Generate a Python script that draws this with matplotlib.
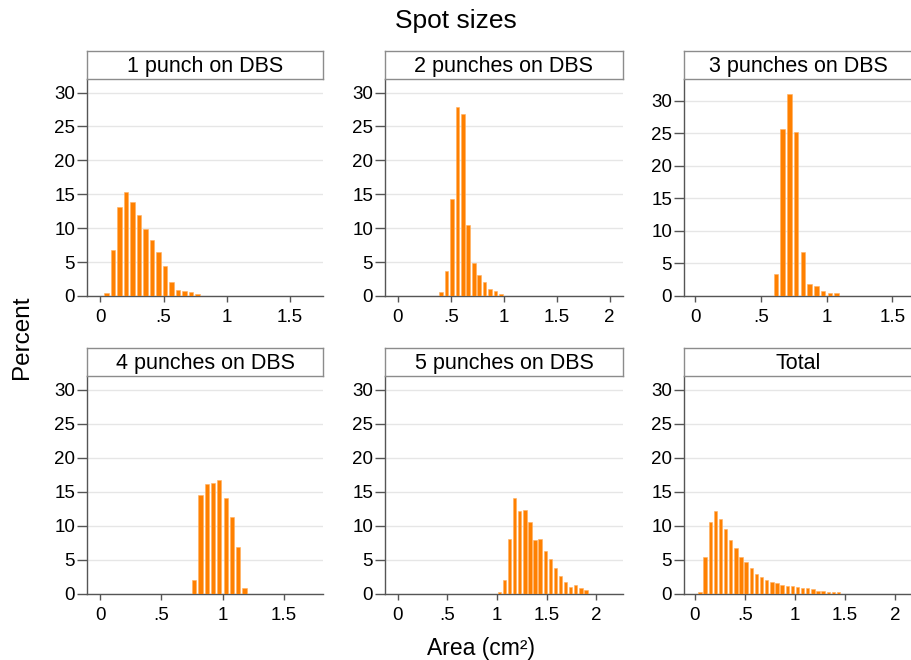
import numpy as np
import matplotlib
matplotlib.use('Agg')
import matplotlib.pyplot as plt

plt.rcParams['font.family'] = ['Liberation Sans', 'DejaVu Sans']

# histogram values (percent)
titles = ['1 punch on DBS', '2 punches on DBS', '3 punches on DBS',
          '4 punches on DBS', '5 punches on DBS', 'Total']
pct_1 = [0.4, 6.8, 13.1, 15.3, 13.8, 11.9, 9.85, 8.3, 6.5, 4.4, 2.1, 0.9, 0.7, 0.6, 0.35]
pct_2 = [0.6, 3.7, 14.3, 27.9, 26.9, 10.5, 4.9, 3.1, 2.1, 1.1, 0.7, 0.35]
pct_3 = [3.4, 25.7, 31.0, 25.2, 6.75, 1.85, 1.55, 0.75, 0.4, 0.4]
pct_4 = [2.05, 14.6, 16.1, 16.3, 16.7, 14.1, 11.3, 6.9, 0.9]
pct_5 = [0.35, 2.05, 8.1, 14.1, 12.2, 12.4, 10.5, 8.0, 8.05, 6.3, 5.1, 3.8, 2.6,
         1.7, 1.0, 1.3, 0.9, 0.55]
pct_t = [0.35, 5.4, 10.5, 12.2, 10.95, 9.5, 8.0, 6.75, 5.4, 4.7, 3.75, 2.9, 2.45,
         2.05, 1.7, 1.55, 1.3, 1.2, 1.2, 1.0, 0.9, 0.9, 0.7, 0.5, 0.5, 0.35, 0.35, 0.35]
series = [pct_1, pct_2, pct_3, pct_4, pct_5, pct_t]

# common bins: first bin centre, bin width, index of first non-empty bin per panel
bin_c0 = 0.05
bin_w = 0.0513
first_bin = [0, 7, 11, 14, 19, 0]

xticks = [[0, 0.5, 1, 1.5], [0, 0.5, 1, 1.5, 2], [0, 0.5, 1, 1.5],
          [0, 0.5, 1, 1.5], [0, 0.5, 1, 1.5, 2], [0, 0.5, 1, 1.5, 2]]
xlabels = {0: '0', 0.5: '.5', 1: '1', 1.5: '1.5', 2: '2'}
xlims = [(-0.105, 1.76), (-0.12, 2.125), (-0.084, 1.65),
         (-0.108, 1.82), (-0.128, 2.27), (-0.11, 2.17)]
ytop = [32.0, 32.0, 33.3, 32.0, 32.0, 32.0]
yticks = [0, 5, 10, 15, 20, 25, 30]

W, H = 912, 660
fig = plt.figure(figsize=(W / 100, H / 100), dpi=100)

cols = [(87, 323), (385, 623), (684, 912)]
rows = [(79, 296), (376, 594)]
box_h = 28

orange = '#ff8000'
spine_c = '#555555'

for i in range(6):
    r, c = divmod(i, 3)
    x0, x1 = cols[c]
    y0, y1 = rows[r]
    ax = fig.add_axes([x0 / W, 1 - y1 / H, (x1 - x0) / W, (y1 - y0) / H])
    vals = series[i]
    xs = bin_c0 + bin_w * (first_bin[i] + np.arange(len(vals)))
    ax.bar(xs, vals, width=bin_w * 0.66, color=orange, edgecolor='#ffb060',
           linewidth=0.4, zorder=3)
    ax.set_xlim(*xlims[i])
    ax.set_ylim(0, ytop[i])
    ax.set_yticks(yticks)
    ax.set_xticks(xticks[i])
    ax.set_xticklabels([xlabels[t] for t in xticks[i]])
    ax.grid(axis='y', color='#e6e6e6', linewidth=1.0, zorder=0)
    for s in ['top', 'right']:
        ax.spines[s].set_visible(False)
    for s in ['left', 'bottom']:
        ax.spines[s].set_color(spine_c)
        ax.spines[s].set_linewidth(1.0)
    ax.tick_params(axis='y', length=7, width=1, color=spine_c, pad=1.5, labelsize=13.5)
    ax.tick_params(axis='x', length=4.5, width=1, color=spine_c, pad=5, labelsize=13.5)

    # title strip above each panel
    extra = 4 if c == 2 else 0
    bx = fig.add_axes([x0 / W, 1 - y0 / H, (x1 - x0 + extra) / W, box_h / H])
    bx.set_xticks([])
    bx.set_yticks([])
    for s in bx.spines.values():
        s.set_color('#8c8c8c')
        s.set_linewidth(1.0)
    bx.text(0.5 * (x1 - x0) / (x1 - x0 + extra), 0.45, titles[i],
            ha='center', va='center', fontsize=15.5, transform=bx.transAxes)

fig.text(456 / W, 1 - 21 / H, 'Spot sizes', ha='center', va='center', fontsize=19)
fig.text(22 / W, 1 - 337 / H, 'Percent', ha='center', va='center', rotation=90, fontsize=17.5)
fig.text(481 / W, 1 - 648 / H, 'Area (cm²)', ha='center', va='center', fontsize=16.5)

fig.savefig('out.png', dpi=100)
